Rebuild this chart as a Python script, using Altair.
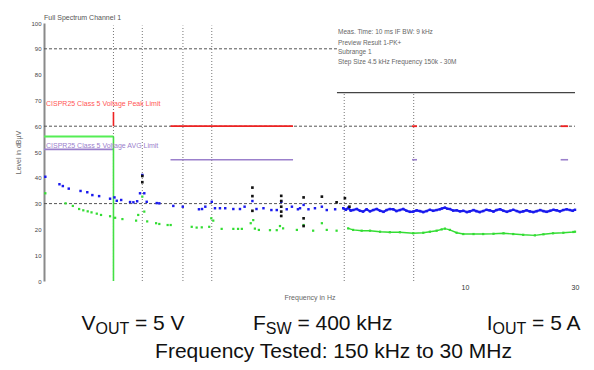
import altair as alt
import pandas as pd

# ---------------- data ----------------
# Peak scan (blue), frequency in MHz, level in dBuV
pk_freq = [0.152, 0.175, 0.181, 0.192, 0.216, 0.231, 0.243, 0.260, 0.290, 0.303,
           0.310, 0.324, 0.354, 0.366, 0.380, 0.391, 0.400, 0.408, 0.418, 0.462,
           0.474, 0.545, 0.599, 0.704, 0.726, 0.750, 0.800, 0.826, 0.868, 0.915,
           0.992, 1.06, 1.11, 1.20, 1.25, 1.34, 1.45, 1.53, 1.60, 1.69,
           1.78, 1.89, 1.93, 2.00, 2.10, 2.24, 2.40, 2.52, 2.74, 2.97,
           3.05, 3.12, 3.20, 3.28, 3.40, 3.51, 3.62, 3.75, 3.88, 4.01,
           4.15, 4.29, 4.44, 4.58, 4.73, 4.89, 5.05, 5.23, 5.40, 5.59,
           5.78, 5.97, 6.18, 6.39, 6.60, 6.83, 7.05, 7.29, 7.54, 7.79,
           7.95, 8.19, 8.40, 8.61, 8.90, 9.21, 9.52, 9.84, 10.2, 10.5,
           10.9, 11.2, 11.6, 12.0, 12.4, 12.8, 13.3, 13.7, 14.2, 14.7,
           15.2, 15.7, 16.2, 16.8, 17.3, 17.9, 18.5, 19.1, 19.8, 20.5,
           21.2, 21.9, 22.6, 23.4, 24.2, 25.0, 25.8, 26.7, 27.6, 28.5,
           29.3, 30.0]
pk_level = [40.4, 37.5, 36.8, 35.8, 34.9, 34.4, 33.3, 32.9, 31.9, 32.4,
            31.1, 31.4, 30.6, 30.5, 30.9, 34.0, 41.1, 34.0, 30.7, 30.2,
            30.1, 29.1, 28.8, 27.8, 27.9, 28.8, 30.7, 28.2, 28.2, 28.2,
            27.9, 27.9, 28.8, 31.0, 27.9, 28.2, 27.5, 27.5, 30.7, 27.8,
            28.8, 27.8, 28.2, 29.5, 27.8, 28.2, 28.8, 27.5, 27.8, 28.2,
            27.6, 28.4, 27.3, 27.5, 27.9, 27.2, 26.9, 27.8, 27.0, 27.5,
            27.9, 27.2, 26.8, 27.5, 27.9, 27.8, 27.1, 27.5, 27.9, 27.2,
            26.8, 26.9, 27.4, 27.1, 26.7, 27.1, 27.6, 27.2, 27.5, 27.8,
            28.1, 28.4, 28.0, 27.9, 27.3, 27.4, 27.0, 27.2, 26.7, 27.0,
            27.5, 27.1, 26.7, 27.1, 27.6, 27.4, 26.9, 27.5, 27.8, 27.2,
            26.8, 27.2, 27.6, 27.1, 26.7, 27.0, 27.4, 27.0, 26.7, 27.1,
            27.5, 27.1, 26.8, 27.2, 27.6, 27.4, 27.0, 27.5, 27.8, 27.5,
            27.2, 27.6]

# Average scan (green)
av_freq = [0.152, 0.186, 0.200, 0.213, 0.222, 0.232, 0.241, 0.254, 0.265, 0.290,
           0.305, 0.328, 0.376, 0.384, 0.400, 0.408, 0.420, 0.459, 0.474, 0.515,
           0.531, 0.655, 0.688, 0.724, 0.780, 0.796, 0.812, 0.883, 0.992, 1.04,
           1.08, 1.18, 1.21, 1.23, 1.28, 1.43, 1.53, 1.58, 1.63, 1.87,
           2.00, 2.20, 2.40, 2.52, 2.78, 3.12, 3.28, 3.57, 3.88, 4.29,
           4.73, 5.23, 5.97, 6.60, 7.05, 7.54, 7.93, 8.19, 8.61, 9.21,
           9.84, 10.9, 12.0, 13.3, 14.7, 16.2, 17.9, 20.1, 21.9, 24.1,
           26.7, 29.5, 30.0]
av_level = [34.0, 30.1, 29.1, 27.9, 27.4, 27.0, 26.6, 26.1, 25.6, 25.1,
            24.5, 24.0, 23.4, 25.6, 32.7, 26.9, 23.1, 22.4, 22.1, 21.7,
            21.7, 21.0, 20.7, 20.8, 21.0, 24.3, 23.4, 20.2, 20.2, 20.2,
            20.2, 22.4, 23.6, 20.3, 19.8, 19.7, 19.7, 21.3, 20.4, 19.8,
            21.7, 19.5, 22.4, 19.8, 19.5, 20.4, 19.8, 19.5, 19.5, 19.1,
            18.9, 18.9, 18.5, 18.7, 19.1, 19.5, 20.0, 20.3, 19.8, 18.7,
            18.2, 18.2, 18.2, 18.3, 18.5, 18.2, 17.9, 17.7, 18.1, 18.5,
            18.7, 19.0, 19.1]

# Final measurement markers (black)
mk_freq = [0.40, 0.40, 1.20, 1.20, 1.20, 1.60, 1.60, 1.60, 1.60, 1.60,
           2.00, 2.00, 2.00, 2.40, 2.78, 3.02, 3.16]
mk_level = [40.7, 38.3, 36.2, 32.9, 27.2, 33.0, 31.0, 28.8, 26.9, 25.2,
            32.4, 24.3, 21.3, 32.7, 30.5, 32.1, 28.8]

# Limit lines
red_f1, red_f2, red_lvl = [0.53, 5.9, 26.0], [1.8, 6.2, 28.0], [60, 60, 60]
red_v_f, red_v_lo, red_v_hi = [0.30], [60], [65.5]
grn_f1, grn_f2, grn_lvl = [0.15], [0.30], [56]
grn_v_f, grn_v_lo, grn_v_hi = [0.30], [0], [56]
pur_f1, pur_f2, pur_lvl = [0.15, 0.53, 5.9, 26.0], [0.30, 1.8, 6.2, 28.0], [51, 47, 47, 47]
blk_f1, blk_f2, blk_lvl = [2.79], [30.0], [73]

# Grid lines
gh_lvl, gh_f1, gh_f2 = [90, 60, 30], [0.15, 0.15, 0.15], [2.79, 30.0, 30.0]
gv_f, gv_top = [0.3, 0.4, 0.6, 0.8, 3.0, 6.0], [99, 99, 99, 99, 72.5, 72.5]

y_ticks = list(range(0, 101, 10))
x_ticks = [10, 30]

FONT = "Liberation Sans"

# ---------------- scales / axes ----------------
xscale = alt.Scale(type="log", domain=[0.15, 30], nice=False)
yscale = alt.Scale(domain=[0, 100], nice=False)
xaxis = alt.Axis(values=x_ticks, format="d", labelFontSize=7, labelColor="#333",
                 labelFont=FONT, labelFlush=False, domain=False, ticks=False,
                 grid=False, labelPadding=2, title="Frequency in Hz",
                 titleFontSize=7, titleColor="#666", titleFont=FONT,
                 titleFontWeight="normal", titlePadding=3)
yaxis = alt.Axis(values=y_ticks, labelFontSize=6, labelColor="#444", labelFont=FONT,
                 domainColor="#8a8a8a", domainWidth=2, ticks=False, grid=False,
                 labelPadding=3, title="Level in dBµV", titleFontSize=7,
                 titleColor="#666", titleFont=FONT, titleFontWeight="normal",
                 titlePadding=9)


def X():
    return alt.X("f:Q", scale=xscale, axis=xaxis)


def Y():
    return alt.Y("db:Q", scale=yscale, axis=yaxis)


def hrule(f1, f2, lvl, **kw):
    df = pd.DataFrame({"f": f1, "f2": f2, "db": lvl})
    return alt.Chart(df).mark_rule(**kw).encode(x=X(), x2="f2:Q", y=Y())


def vrule(f, lo, hi, **kw):
    df = pd.DataFrame({"f": f, "db": lo, "db2": hi})
    return alt.Chart(df).mark_rule(**kw).encode(x=X(), y=Y(), y2="db2:Q")


one = pd.DataFrame({"a": [0]})


def label(txt, px, py, size, color="#111", align="left", baseline="alphabetic", **kw):
    return alt.Chart(one).mark_text(text=txt, align=align, baseline=baseline,
                                    fontSize=size, font=FONT, color=color, **kw).encode(
        x=alt.value(px), y=alt.value(py))


layers = []
# grid
layers.append(hrule(gh_f1, gh_f2, gh_lvl, color="#555", strokeDash=[3, 2], strokeWidth=1))
layers.append(vrule(gv_f, [0] * len(gv_f), gv_top, color="#777", strokeDash=[1, 2], strokeWidth=1))
# limits
layers.append(hrule(pur_f1, pur_f2, pur_lvl, color="#9b80cc", strokeWidth=1.6))
layers.append(hrule(blk_f1, blk_f2, blk_lvl, color="#444", strokeWidth=1.4))
layers.append(hrule(grn_f1, grn_f2, grn_lvl, color="#55ee55", strokeWidth=2.2))
layers.append(vrule(grn_v_f, grn_v_lo, grn_v_hi, color="#44e044", strokeWidth=1.6))
layers.append(hrule(red_f1, red_f2, red_lvl, color="#ee2222", strokeWidth=1.8))
layers.append(vrule(red_v_f, red_v_lo, red_v_hi, color="#ee2222", strokeWidth=1.6))

# scans
pk = pd.DataFrame({"f": pk_freq, "db": pk_level})
av = pd.DataFrame({"f": av_freq, "db": av_level})
mk = pd.DataFrame({"f": mk_freq, "db": mk_level})
layers.append(alt.Chart(av).transform_filter("datum.f >= 2.9").mark_line(
    color="#33dd33", strokeWidth=1.4).encode(x=X(), y=Y()))
layers.append(alt.Chart(av).mark_square(size=5, color="#33dd33", opacity=1).encode(x=X(), y=Y()))
layers.append(alt.Chart(pk).transform_filter("datum.f >= 2.9").mark_line(
    color="#1a1aee", strokeWidth=2.2).encode(x=X(), y=Y()))
layers.append(alt.Chart(pk).mark_square(size=6, color="#1a1aee", opacity=1).encode(x=X(), y=Y()))
layers.append(alt.Chart(mk).mark_square(size=7, color="#111", opacity=1).encode(x=X(), y=Y()))

# small texts inside the scan
layers.append(label("Full Spectrum      Channel 1", 0, -5, 7, color="#555", baseline="middle"))
layers.append(label("Meas. Time: 10 ms   IF BW: 9 kHz", 294, 9, 6.5, color="#666", baseline="middle"))
layers.append(label("Preview Result 1-PK+", 294, 20, 6.5, color="#666", baseline="middle"))
layers.append(label("Subrange 1", 294, 29, 6.5, color="#666", baseline="middle"))
layers.append(label("Step Size 4.5 kHz    Frequency 150k - 30M", 294, 39, 6.5, color="#666", baseline="middle"))
layers.append(label("CISPR25 Class 5 Voltage Peak Limit", 2, 81, 7, color="#ff5555", baseline="middle"))
layers.append(label("CISPR25 Class 5 Voltage AVG Limit", 2, 123, 7, color="#9b80cc", baseline="middle"))

# caption below the plot (plot coordinates: page minus 44, 23)
BASE = 307
SUB = 311
layers.append(label("V", 37.5, BASE, 21))
layers.append(label("OUT", 51.5, SUB, 16))
layers.append(label("= 5 V", 91.0, BASE, 21))
layers.append(label("F", 209, BASE, 21))
layers.append(label("SW", 221.8, SUB, 16))
layers.append(label("= 400 kHz", 253.4, BASE, 21))
layers.append(label("I", 442.7, BASE, 21))
layers.append(label("OUT", 448.5, SUB, 16))
layers.append(label("= 5 A", 488.1, BASE, 21))
layers.append(label("Frequency Tested: 150 kHz to 30 MHz", 289.5, 334.5, 21, align="center"))

chart = alt.layer(*layers).properties(
    width=531, height=258,
    padding={"left": 36, "top": 15, "right": 11, "bottom": 81},
    autosize=alt.AutoSizeParams(type="none"),
).configure_view(stroke=None)

chart.save("out.html", embed_options={"renderer": "svg", "actions": False})
